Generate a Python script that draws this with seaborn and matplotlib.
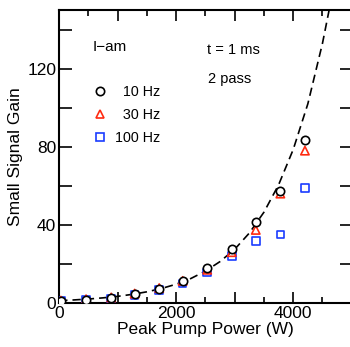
import numpy as np
import pandas as pd
import matplotlib
matplotlib.use("Agg")
import matplotlib.pyplot as plt
import matplotlib.ticker as ticker
from matplotlib.lines import Line2D
import seaborn as sns

# ---- data ----
power_w = [30, 460, 890, 1290, 1710, 2110, 2530, 2950, 3360, 3780, 4200]
gain_10hz = [1.0, 1.7, 2.6, 4.6, 7.2, 11.3, 18.1, 27.7, 41.4, 57.4, 83.2]
gain_30hz = [1.2, 1.9, 2.8, 4.8, 7.6, 11.3, 17.0, 26.0, 37.4, 56.0, 78.0]
gain_100hz = [0.9, 1.5, 2.3, 4.2, 6.6, 10.0, 15.5, 24.0, 31.8, 35.0, 58.8]

# dashed guide curve
curve_power = [0, 250, 500, 750, 1000, 1250, 1500, 1750, 2000, 2250, 2500,
               2750, 3000, 3250, 3500, 3750, 4000, 4250, 4500, 4620]
curve_gain = [1.18, 1.53, 2.0, 2.6, 3.37, 4.39, 5.7, 7.4, 9.6, 12.5, 16.3,
              21.2, 27.5, 35.8, 46.5, 60.5, 78.6, 102, 133, 151]

series_labels = ["\u200710 Hz", "\u200730 Hz", "100 Hz"]

sns.set_theme(style="ticks")
plt.rcParams['font.family'] = ['Liberation Sans', 'DejaVu Sans']
plt.rcParams['axes.linewidth'] = 1.5
plt.rcParams['text.color'] = 'black'
plt.rcParams['axes.labelcolor'] = 'black'
plt.rcParams['xtick.color'] = 'black'
plt.rcParams['ytick.color'] = 'black'
plt.rcParams['axes.edgecolor'] = 'black'

fig = plt.figure(figsize=(3.5, 3.47), dpi=100)
ax = fig.add_axes([0.169, 0.127, 0.836, 0.844])

df_curve = pd.DataFrame({"P": curve_power, "G": curve_gain})
sns.lineplot(data=df_curve, x="P", y="G", color="black", lw=1.2,
             dashes=False, ax=ax, zorder=2)
ax.lines[-1].set_dashes([5, 3])

sns.scatterplot(x=power_w, y=gain_100hz, marker="s", s=30, facecolor="none",
                edgecolor="#1a3cff", linewidth=1.2, ax=ax, zorder=3)
sns.scatterplot(x=power_w, y=gain_30hz, marker="^", s=36, facecolor="none",
                edgecolor="#ff2a10", linewidth=1.2, ax=ax, zorder=4)
sns.scatterplot(x=power_w, y=gain_10hz, marker="o", s=36, facecolor="white",
                edgecolor="black", linewidth=1.2, ax=ax, zorder=5)

ax.set_xlim(0, 5000)
ax.set_ylim(0, 150)

ax.xaxis.set_major_locator(ticker.MultipleLocator(1000))
ax.xaxis.set_minor_locator(ticker.MultipleLocator(500))
ax.xaxis.set_major_formatter(ticker.FuncFormatter(
    lambda v, p: f"{int(v)}" if int(v) % 2000 == 0 else ""))
ax.yaxis.set_major_locator(ticker.MultipleLocator(20))
ax.yaxis.set_major_formatter(ticker.FuncFormatter(
    lambda v, p: f"{int(v)}" if int(v) % 40 == 0 else ""))
ax.tick_params(which="both", direction="in", top=True, right=True,
               width=1.2, labelsize=12.5, pad=2, color="black",
               labelcolor="black")
ax.tick_params(which="major", length=8)
ax.tick_params(which="minor", length=4)
ax.tick_params(axis="y", which="major", length=9)

ax.set_xlabel("Peak Pump Power (W)", fontsize=12.5, labelpad=1)
ax.set_ylabel("Small Signal Gain", fontsize=12.5, labelpad=3)

ax.text(0.113, 0.86, "I\u2212am", transform=ax.transAxes, fontsize=11)
ax.text(0.505, 0.85, "t = 1 ms", transform=ax.transAxes, fontsize=10.5)
ax.text(0.51, 0.75, "2 pass", transform=ax.transAxes, fontsize=10.5)

handles = [
    Line2D([], [], ls="", marker="o", ms=6, mfc="none", mec="black", mew=1.2),
    Line2D([], [], ls="", marker="^", ms=6, mfc="none", mec="#ff2a10", mew=1.2),
    Line2D([], [], ls="", marker="s", ms=5.5, mfc="none", mec="#1a3cff", mew=1.2),
]
ax.legend(handles, series_labels, loc="upper left", bbox_to_anchor=(0.08, 0.78),
          frameon=False, fontsize=10.3, handlelength=1.0, handletextpad=0.6,
          labelspacing=0.65, borderpad=0.2)

plt.savefig("out.png", dpi=100)
